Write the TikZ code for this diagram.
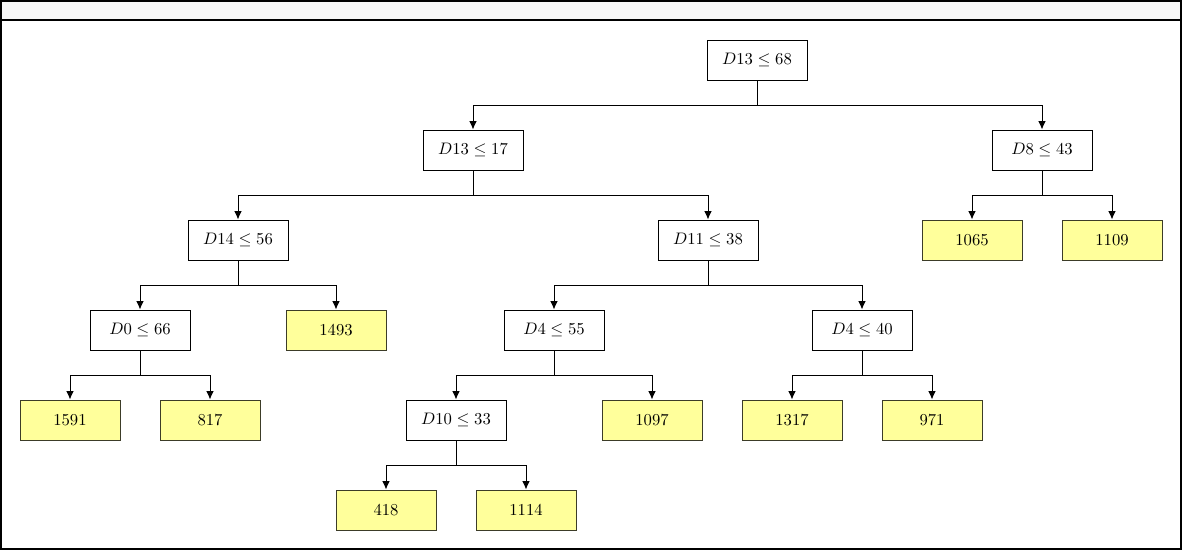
\documentclass[tikz,border=0pt]{standalone}
\usetikzlibrary{arrows.meta}
\definecolor{leaffill}{RGB}{255,255,155}
\definecolor{leafdraw}{RGB}{60,60,40}
\tikzset{
  split/.style={draw=black, fill=white, line width=0.6pt, minimum width=60pt, minimum height=24pt, inner sep=0pt},
  leaf/.style={draw=leafdraw, fill=leaffill, line width=0.6pt, minimum width=60pt, minimum height=24pt, inner sep=0pt},
  edge/.style={draw=black, line width=0.6pt, -{Latex[length=5pt,width=4.5pt]}}
}
\begin{document}
\begin{tikzpicture}[x=0.6pt,y=-0.6pt]
\useasboundingbox (0,0) rectangle (1183,551);
\fill[black!3] (1,1) rectangle (1181,20);
\draw[line width=0.9pt] (1,1) rectangle (1181,549);
\draw[line width=0.9pt] (1,20) -- (1181,20);
% splits
\node[split] (r) at (757,60) {$D13 \leq 68$};
\node[split] (a) at (473,150) {$D13 \leq 17$};
\node[split] (b) at (1042,150) {$D8 \leq 43$};
\node[split] (c) at (238,240) {$D14 \leq 56$};
\node[split] (d) at (708,240) {$D11 \leq 38$};
\node[leaf] (l1065) at (972,240) {1065};
\node[leaf] (l1109) at (1112,240) {1109};
\node[split] (e) at (140,330) {$D0 \leq 66$};
\node[leaf] (l1493) at (336,330) {1493};
\node[split] (f) at (554,330) {$D4 \leq 55$};
\node[split] (g) at (862,330) {$D4 \leq 40$};
\node[leaf] (l1591) at (70,420) {1591};
\node[leaf] (l817) at (210,420) {817};
\node[split] (h) at (456,420) {$D10 \leq 33$};
\node[leaf] (l1097) at (652,420) {1097};
\node[leaf] (l1317) at (792,420) {1317};
\node[leaf] (l971) at (932,420) {971};
\node[leaf] (l418) at (386,510) {418};
\node[leaf] (l1114) at (526,510) {1114};
% edges
\foreach \p/\q in {r/a,r/b,a/c,a/d,b/l1065,b/l1109,c/e,c/l1493,d/f,d/g,e/l1591,e/l817,f/h,f/l1097,g/l1317,g/l971,h/l418,h/l1114}{
  \draw[edge] (\p.south) -- ++(0,25) -| (\q.north);
}
\end{tikzpicture}
\end{document}
